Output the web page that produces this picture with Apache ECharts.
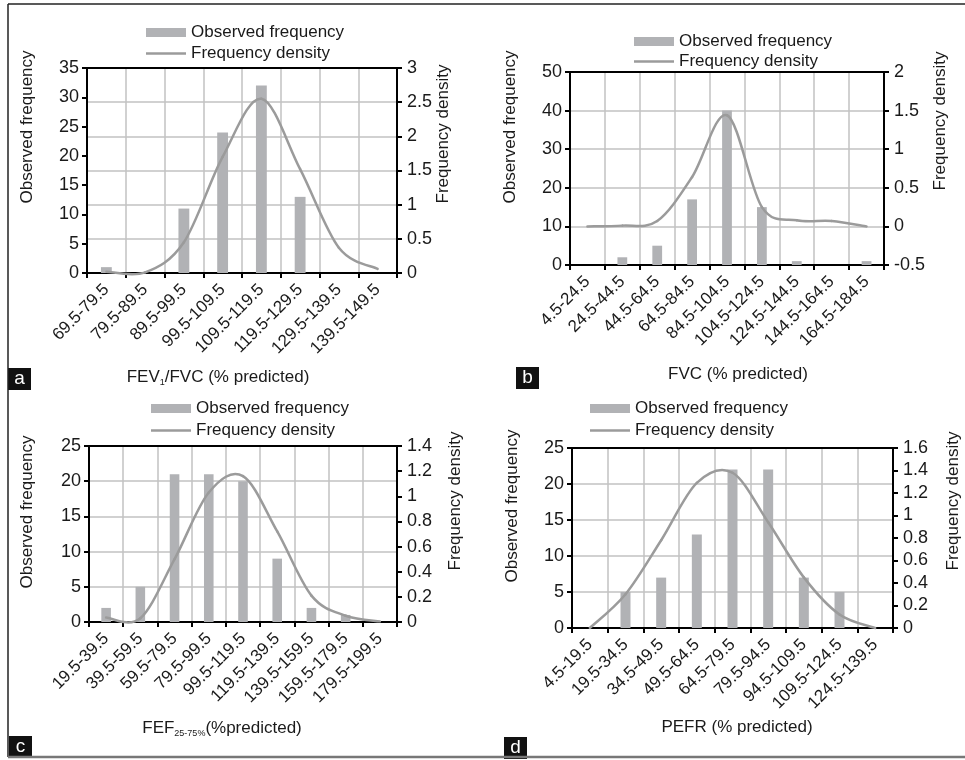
<!DOCTYPE html>
<html>
<head>
<meta charset="utf-8">
<script src="https://cdn.jsdelivr.net/npm/echarts@6/dist/echarts.min.js"></script>
<style>
html,body{margin:0;padding:0;background:#fff;}
#chart{width:965px;height:760px;}
</style>
</head>
<body>
<div id="chart"></div>
<script>
// ---- Data ----
const catsA = ['69.5-79.5','79.5-89.5','89.5-99.5','99.5-109.5','109.5-119.5','119.5-129.5','129.5-139.5','139.5-149.5'];
const obsA = [1, 0, 11, 24, 32, 13, 0, 0];
const denA = [0.02, 0.01, 0.45, 1.7, 2.55, 1.52, 0.37, 0.06];

const catsB = ['4.5-24.5','24.5-44.5','44.5-64.5','64.5-84.5','84.5-104.5','104.5-124.5','124.5-144.5','144.5-164.5','164.5-184.5'];
const obsB = [0, 2, 5, 17, 40, 15, 1, 0, 1];
const denB = [0, 0.01, 0.07, 0.64, 1.44, 0.25, 0.08, 0.07, 0];

const catsC = ['19.5-39.5','39.5-59.5','59.5-79.5','79.5-99.5','99.5-119.5','119.5-139.5','139.5-159.5','159.5-179.5','179.5-199.5'];
const obsC = [2, 5, 21, 21, 20, 9, 2, 1, 0];
const denC = [0.035, 0.03, 0.5, 1.03, 1.16, 0.72, 0.21, 0.05, 0.005];

const catsD = ['4.5-19.5','19.5-34.5','34.5-49.5','49.5-64.5','64.5-79.5','79.5-94.5','94.5-109.5','109.5-124.5','124.5-139.5'];
const obsD = [0, 5, 7, 13, 22, 22, 7, 5, 0];
const denD = [0, 0.3, 0.78, 1.29, 1.38, 0.94, 0.45, 0.12, 0];

const leftAxes  = [{min:0,max:35,interval:5},{min:0,max:50,interval:10},{min:0,max:25,interval:5},{min:0,max:25,interval:5}];
const rightAxes = [{min:0,max:3,interval:0.5},{min:-0.5,max:2,interval:0.5},{min:0,max:1.4,interval:0.2},{min:0,max:1.6,interval:0.2}];
const gridFromRight = [true, false, false, false];

const xTitles = ['FEV{sub|1}/FVC (% predicted)','FVC (% predicted)','FEF{sub|25-75%}(%predicted)','PEFR (% predicted)'];
const panelLetters = ['a','b','c','d'];
const nameBar = 'Observed frequency';
const nameLine = 'Frequency density';

// ---- Layout / style ----
const FONT = '"Liberation Sans", Arial, Helvetica, sans-serif';
const FS = 17;
const BAR_COLOR = '#b1b2b5';
const LINE_COLOR = '#9b9b9b';
const GRID_COLOR = '#c2c2c2';
const TXT = '#1a1a1a';

const grids = [
  {left:87, top:68, width:310, height:205},
  {left:570, top:72, width:314, height:193},
  {left:89, top:446, width:308, height:176},
  {left:572, top:448, width:321, height:180}
];
const legendPos = [
  {left:146, top:24, gap:4},
  {left:634, top:33, gap:3},
  {left:151, top:400, gap:5},
  {left:590, top:400, gap:5}
];
const yTitlePos = [
  [[27,127],[443,134]],
  [[510,127],[940,121]],
  [[27,512],[455,501]],
  [[512,506],[953,501]]
];
const xTitlePos = [[218,377],[738,374],[222,728],[737,727]];
const letterPos = [[8,368],[516,367],[9,736],[504,737]];

const cats = [catsA, catsB, catsC, catsD];
const obs = [obsA, obsB, obsC, obsD];
const den = [denA, denB, denC, denD];

// smooth curve (Catmull-Rom as cubic Bezier) through the points, via the axes' scales
function makeCurve(vals) {
  return function (params, api) {
    const i = params.dataIndex, n = vals.length;
    if (i >= n - 1) return null;
    const P = k => { const c = Math.max(0, Math.min(n - 1, k)); return api.coord([c, vals[c]]); };
    const p0 = P(i - 1), p1 = P(i), p2 = P(i + 1), p3 = P(i + 2);
    return {
      type: 'bezierCurve',
      shape: {
        x1: p1[0], y1: p1[1], x2: p2[0], y2: p2[1],
        cpx1: p1[0] + (p2[0] - p0[0]) / 6, cpy1: p1[1] + (p2[1] - p0[1]) / 6,
        cpx2: p2[0] - (p3[0] - p1[0]) / 6, cpy2: p2[1] - (p3[1] - p1[1]) / 6
      },
      style: {stroke: LINE_COLOR, lineWidth: 2.5, fill: null, lineCap: 'round'}
    };
  };
}

const option = {
  animation: false,
  backgroundColor: '#fff',
  textStyle: {fontFamily: FONT, color: TXT},
  grid: grids.map(g => Object.assign({containLabel:false}, g)),
  legend: [], xAxis: [], yAxis: [], series: [], graphic: []
};

for (let i = 0; i < 4; i++) {
  option.xAxis.push({
    type:'category', gridIndex:i, data:cats[i], position:'bottom',
    boundaryGap:true,
    axisLine:{show:true, onZero:false, lineStyle:{color:'#000', width:2}},
    axisTick:{show:true, length:5, lineStyle:{color:'#000', width:2}},
    axisLabel:{rotate:45, fontSize:FS, color:TXT, fontFamily:FONT, margin:14, interval:0},
    splitLine:{show:true, lineStyle:{color:GRID_COLOR, width:1.5}}
  });
  option.xAxis.push({
    type:'category', gridIndex:i, data:cats[i], position:'top',
    axisLine:{show:true, onZero:false, lineStyle:{color:'#000', width:2}},
    axisTick:{show:false}, axisLabel:{show:false}, splitLine:{show:false}
  });
  const L = leftAxes[i], R = rightAxes[i];
  option.yAxis.push({
    type:'value', gridIndex:i, position:'left', min:L.min, max:L.max, interval:L.interval,
    axisLine:{show:true, lineStyle:{color:'#000', width:2}},
    axisTick:{show:true, length:5, lineStyle:{color:'#000', width:2}},
    axisLabel:{fontSize:FS+1, color:TXT, fontFamily:FONT, margin:8},
    splitLine:{show:!gridFromRight[i], lineStyle:{color:GRID_COLOR, width:1.5}}
  });
  option.yAxis.push({
    type:'value', gridIndex:i, position:'right', min:R.min, max:R.max, interval:R.interval,
    axisLine:{show:true, lineStyle:{color:'#000', width:2}},
    axisTick:{show:true, length:5, lineStyle:{color:'#000', width:2}},
    axisLabel:{fontSize:FS+1, color:TXT, fontFamily:FONT, margin:10},
    splitLine:{show:gridFromRight[i], lineStyle:{color:GRID_COLOR, width:1.5}}
  });
  option.series.push({
    type:'bar', name:nameBar, xAxisIndex:2*i, yAxisIndex:2*i, data:obs[i],
    barWidth:'28%', itemStyle:{color:BAR_COLOR}, z:3
  });
  option.series.push({
    type:'custom', name:nameLine, xAxisIndex:2*i, yAxisIndex:2*i+1,
    data: den[i].map((v, k) => [k, v]),
    encode:{x:0, y:1},
    renderItem: makeCurve(den[i]),
    itemStyle:{color:LINE_COLOR}, z:4, clip:false
  });
  const lp = legendPos[i];
  option.legend.push({
    orient:'vertical', left:lp.left, top:lp.top, itemGap:lp.gap,
    itemWidth:40, itemHeight:9, itemTextGap:5, selectedMode:false,
    padding:0,
    textStyle:{fontSize:FS, color:TXT, fontFamily:FONT},
    data:[
      {name:nameBar, icon:'rect', itemStyle:{color:BAR_COLOR}},
      {name:nameLine, icon:'path://M0,0H40V2.5H0Z', itemStyle:{color:LINE_COLOR}}
    ]
  });
  const yt = yTitlePos[i];
  ['Observed frequency','Frequency density'].forEach((t, k) => {
    option.graphic.push({
      type:'text', x:yt[k][0], y:yt[k][1], rotation:Math.PI/2,
      style:{text:t, fill:TXT, fontSize:FS, fontFamily:FONT,
             align:'center', verticalAlign:'middle', textAlign:'center', textVerticalAlign:'middle'}
    });
  });
  option.graphic.push({
    type:'text', x:xTitlePos[i][0], y:xTitlePos[i][1],
    style:{text:xTitles[i], fill:TXT, fontSize:FS, fontFamily:FONT,
           align:'center', verticalAlign:'middle', textAlign:'center', textVerticalAlign:'middle',
           rich:{sub:{fontSize:9, fontFamily:FONT, fill:TXT, padding:[12,0,0,0]}}}
  });
  option.graphic.push({
    type:'group', x:letterPos[i][0], y:letterPos[i][1],
    children:[
      {type:'rect', shape:{x:0,y:0,width:23,height:22}, style:{fill:'#111'}},
      {type:'text', x:11.5, y:11, style:{text:panelLetters[i], fill:'#fff', fontSize:19, fontFamily:FONT,
        align:'center', verticalAlign:'middle', textAlign:'center', textVerticalAlign:'middle'}}
    ]
  });
}
option.graphic.push(
  {type:'line', shape:{x1:8,y1:4,x2:965,y2:4}, style:{stroke:'#222', lineWidth:1.5}},
  {type:'line', shape:{x1:8,y1:4,x2:8,y2:757}, style:{stroke:'#222', lineWidth:1.5}},
  {type:'line', shape:{x1:8,y1:757,x2:965,y2:757}, style:{stroke:'#777', lineWidth:2.5}}
);

const chart = echarts.init(document.getElementById('chart'), null, {renderer:'canvas'});
chart.setOption(option);
</script>
</body>
</html>
